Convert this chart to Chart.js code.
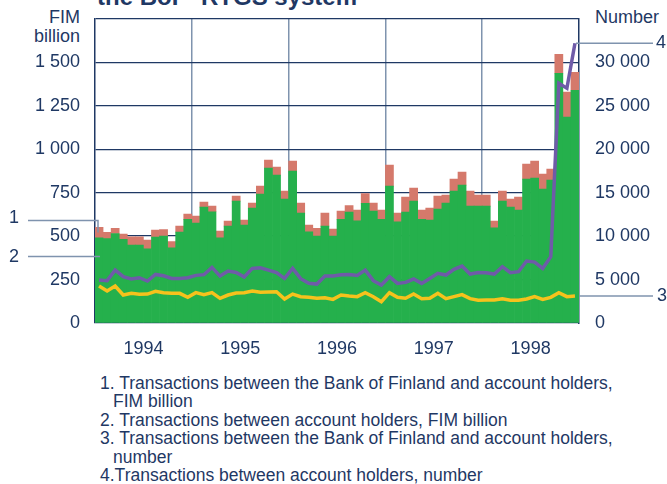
<!DOCTYPE html>
<html>
<head>
<meta charset="utf-8">
<script src="https://cdn.jsdelivr.net/npm/chart.js@4"></script>
<style>
body { margin: 0; background: #fff; font-family: "Liberation Sans", Arial, sans-serif; color: #1f3864; }
#wrap { position: relative; width: 667px; height: 484px; overflow: hidden; }
#box { position: absolute; left: 0; top: -8px; width: 667px; height: 370px; }
.lbl { position: absolute; font-size: 18px; line-height: 19px; }
#title { position: absolute; left: 97px; top: -15px; font-size: 24px; font-weight: bold; line-height: 24px; white-space: nowrap; }
#notes { position: absolute; left: 100px; top: 374px; width: 520px; font-size: 17.5px; line-height: 18.4px; }
#notes div { padding-left: 13px; text-indent: -13px; }
</style>
</head>
<body>
<div id="wrap">
  <div id="title">the BoF- RTGS system</div>
  <div class="lbl" style="right:587px;top:8px;text-align:right">FIM<br>billion</div>
  <div class="lbl" style="left:595px;top:8px">Number</div>
  <div id="box"><canvas id="chart"></canvas></div>
  <div id="notes">
    <div>1. Transactions between the Bank of Finland and account holders, FIM billion</div>
    <div>2. Transactions between account holders, FIM billion</div>
    <div>3. Transactions between the Bank of Finland and account holders, number</div>
    <div>4.Transactions between account holders, number</div>
  </div>
</div>
<script>
// monthly data 1994-1998
var years = ['1994', '1995', '1996', '1997', '1998'];

// FIM billion, transactions between account holders (green)
var holdersFim = [490, 485, 515, 481, 448, 448, 427, 494, 500, 433, 523, 596,
                  575, 667, 640, 490, 557, 701, 563, 661, 741, 891, 851, 713,
                  874, 632, 525, 500, 557, 500, 596, 638, 588, 688, 644, 596,
                  787, 582, 638, 701, 596, 592, 655, 690, 759, 793, 672, 672,
                  672, 548, 701, 667, 649, 828, 833, 770, 822, 1437, 1184, 1339];

// FIM billion, Bank of Finland <-> account holders (red, on top)
var bofFim = [60, 36, 29, 30, 48, 48, 50, 40, 38, 36, 34, 30,
              40, 28, 32, 39, 29, 29, 29, 29, 46, 46, 46, 46,
              57, 58, 38, 44, 75, 40, 48, 38, 61, 57, 46, 53,
              121, 50, 86, 75, 53, 69, 75, 46, 69, 75, 87, 64,
              64, 38, 58, 46, 75, 86, 98, 86, 63, 109, 144, 103];

// number of transactions, Bank of Finland <-> account holders (yellow)
var bofCount = [4250, 3680, 4250, 3220, 3410, 3300, 3330, 3640, 3490, 3410, 3410, 2950,
                3490, 3260, 3490, 2840, 3220, 3450, 3490, 3680, 3530, 3560, 3600, 2760,
                3330, 3030, 2950, 2840, 2910, 2720, 3220, 3100, 3030, 3490, 3030, 2450,
                3490, 2950, 2840, 3330, 2800, 2840, 3410, 2800, 3030, 3260, 2800, 2610,
                2640, 2640, 2800, 2610, 2610, 2760, 3030, 2720, 2950, 3490, 3030, 3100];

// number of transactions between account holders (purple)
var holdersCount = [4940, 4870, 6090, 5330, 5060, 5210, 4830, 5590, 5440, 5130, 5130, 5210,
                    5480, 5560, 6400, 5400, 5980, 5820, 5290, 6280, 6360, 6090, 5790, 5130,
                    6280, 5100, 4560, 4480, 5400, 5400, 5560, 5590, 5480, 6090, 4870, 4370,
                    5330, 4560, 4670, 5060, 4560, 5130, 5710, 5520, 6170, 6550, 5630, 5820,
                    5790, 5630, 6480, 5790, 5900, 7130, 7010, 6280, 7620, 27590, 27010, 32180];

var leftTicks = [0, 250, 500, 750, 1000, 1250, 1500];
var rightTicks = [0, 5000, 10000, 15000, 20000, 25000, 30000];

var months = [];
years.forEach(function (yr) {
    for (var m = 1; m <= 12; m++) months.push(yr + '-' + (m < 10 ? '0' + m : m));
});

var navy = '#1f3864';
var gridBlue = '#7f93ae';

function spaced(v) {
    return String(v).replace(/\B(?=(\d{3})+(?!\d))/g, ' ');
}

var callouts = {
    id: 'callouts',
    afterDatasetsDraw: function (chart) {
        var ctx = chart.ctx, y = chart.scales.y, y2 = chart.scales.y2, area = chart.chartArea;
        var last = months.length - 1;
        ctx.save();
        ctx.strokeStyle = gridBlue;
        ctx.lineWidth = 1.5;
        ctx.fillStyle = navy;
        ctx.font = '18px "Liberation Sans", Arial, sans-serif';
        ctx.textBaseline = 'middle';

        var top0 = y.getPixelForValue(holdersFim[0] + bofFim[0]) - 7;
        var mid1 = y.getPixelForValue(holdersFim[0] + bofFim[0] / 2);
        ctx.beginPath();
        ctx.moveTo(28, top0);
        ctx.lineTo(area.left + 3, top0);
        ctx.lineTo(area.left + 3, mid1);
        ctx.stroke();
        ctx.fillText('1', 9, top0 - 2);

        var mid2 = y.getPixelForValue(holdersFim[0] * 0.78);
        ctx.beginPath();
        ctx.moveTo(28, mid2);
        ctx.lineTo(area.left + 5, mid2);
        ctx.stroke();
        ctx.fillText('2', 9, mid2);

        var p4 = y2.getPixelForValue(holdersCount[last]);
        ctx.beginPath();
        ctx.moveTo(area.right - 3, p4);
        ctx.lineTo(653, p4);
        ctx.stroke();
        ctx.fillText('4', 656, p4);

        var p3 = y2.getPixelForValue(bofCount[last]);
        ctx.beginPath();
        ctx.moveTo(area.right, p3);
        ctx.lineTo(653, p3);
        ctx.stroke();
        ctx.fillText('3', 657, p3);
        ctx.restore();
    }
};

var tickFont = { family: '"Liberation Sans", Arial, sans-serif', size: 18 };

new Chart(document.getElementById('chart'), {
    type: 'bar',
    data: {
        labels: months,
        datasets: [
            {
                type: 'line', label: '4', data: holdersCount, yAxisID: 'y2', order: 0,
                borderColor: '#6f5ba8', borderWidth: 3.5, pointRadius: 0, tension: 0
            },
            {
                type: 'line', label: '3', data: bofCount, yAxisID: 'y2', order: 0,
                borderColor: '#f6c21c', borderWidth: 3.5, pointRadius: 0, tension: 0
            },
            {
                label: '2', data: holdersFim, backgroundColor: '#25b04c', yAxisID: 'y', order: 1,
                barPercentage: 1, categoryPercentage: 1, borderWidth: 0
            },
            {
                label: '1', data: bofFim, backgroundColor: '#d5796b', yAxisID: 'y', order: 1,
                barPercentage: 1, categoryPercentage: 1, borderWidth: 0
            }
        ]
    },
    options: {
        responsive: true,
        maintainAspectRatio: false,
        animation: false,
        layout: { padding: { top: 11, left: 0, right: 0, bottom: 0 } },
        plugins: { legend: { display: false }, tooltip: { enabled: false } },
        scales: {
            x: {
                stacked: true,
                afterFit: function (s) { s.height = 39; },
                border: { display: false },
                grid: {
                    drawTicks: false,
                    lineWidth: 1.5,
                    color: function (c) {
                        return (c.index > 0 && c.index % 12 === 0) ? gridBlue : 'rgba(0,0,0,0)';
                    }
                },
                ticks: {
                    autoSkip: false, maxRotation: 0, padding: 15, color: navy, font: tickFont,
                    labelOffset: -4,
                    callback: function (v, i) { return i % 12 === 6 ? months[i].slice(0, 4) : ''; }
                }
            },
            y: {
                stacked: true,
                position: 'left',
                min: 0, max: 1750,
                afterFit: function (s) { s.width = 95; },
                afterBuildTicks: function (s) {
                    s.ticks = leftTicks.concat([1750]).map(function (v) { return { value: v }; });
                },
                border: { color: navy, width: 1.5 },
                grid: { color: navy, lineWidth: 1.2, drawTicks: false },
                ticks: {
                    padding: 15, color: navy, font: tickFont,
                    callback: function (v) { return leftTicks.indexOf(v) >= 0 ? spaced(v) : ''; }
                }
            },
            y2: {
                position: 'right',
                min: 0, max: 35000,
                afterFit: function (s) { s.width = 88; },
                afterBuildTicks: function (s) {
                    s.ticks = rightTicks.concat([35000]).map(function (v) { return { value: v }; });
                },
                border: { color: navy, width: 1.5 },
                grid: { display: false, drawTicks: false },
                ticks: {
                    padding: 16, color: navy, font: tickFont,
                    callback: function (v) { return rightTicks.indexOf(v) >= 0 ? spaced(v) : ''; }
                }
            }
        }
    },
    plugins: [callouts]
});
</script>
</body>
</html>
